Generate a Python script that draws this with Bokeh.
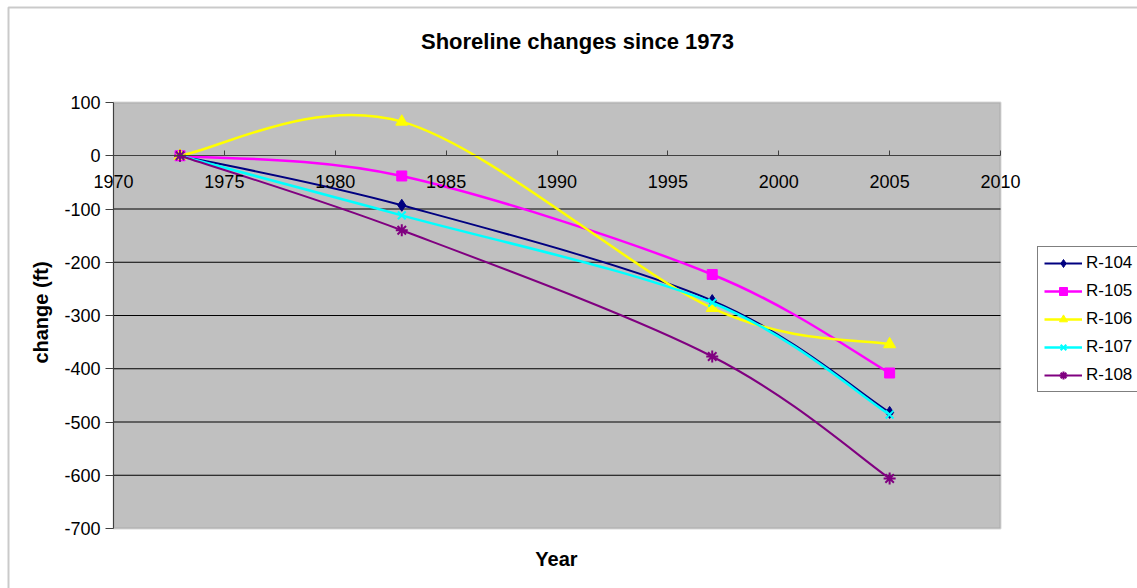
import math
from bokeh.plotting import figure
from bokeh.models import (Range1d, FixedTicker, Legend, LegendItem, Label,
                          BoxAnnotation, ColumnDataSource, LinearAxis,
                          CustomJSTickFormatter)
from bokeh.embed import file_html
from bokeh.resources import INLINE

# Survey years and shoreline change (ft) at each transect
years = [1973, 1983, 1997, 2005]
r104 = [0, -93, -272, -482]
r105 = [0, -38, -223, -408]
r106 = [0, 64, -286, -354]
r107 = [0, -112, -276, -486]
r108 = [0, -140, -377, -606]

series_names = ["R-104", "R-105", "R-106", "R-107", "R-108"]
series_values = [r104, r105, r106, r107, r108]
colors = ["#000080", "#FF00FF", "#FFFF00", "#00FFFF", "#800080"]
markers = ["diamond", "square", "triangle", "x", "asterisk"]
marker_sizes = [12, 10, 12, 11, 12]
line_widths = [2, 2.5, 2.5, 2.5, 2]

x_ticks = [1970, 1975, 1980, 1985, 1990, 1995, 2000, 2005, 2010]
y_ticks = [100, 0, -100, -200, -300, -400, -500, -600, -700]
grid_ticks = [-100, -200, -300, -400, -500, -600]

X_MIN, X_MAX = 1970, 2010
Y_MIN, Y_MAX = -700, 100

W, H = 1137, 588
# plot area inside the canvas (pixels)
PA_LEFT, PA_RIGHT, PA_TOP, PA_BOTTOM = 113, 1000, 102, 528

FONT = "Liberation Sans"


def smooth_segments(xs, ys):
    """Cubic Bezier pieces through the points (cardinal spline, 1/6 tangents)."""
    n = len(xs)
    out = dict(x0=[], y0=[], x1=[], y1=[], cx0=[], cy0=[], cx1=[], cy1=[])
    for i in range(n - 1):
        a = i - 1 if i > 0 else i
        d = i + 2 if i + 2 < n else i + 1
        out["x0"].append(xs[i]); out["y0"].append(ys[i])
        out["x1"].append(xs[i + 1]); out["y1"].append(ys[i + 1])
        out["cx0"].append(xs[i] + (xs[i + 1] - xs[a]) / 6)
        out["cy0"].append(ys[i] + (ys[i + 1] - ys[a]) / 6)
        out["cx1"].append(xs[i + 1] - (xs[d] - xs[i]) / 6)
        out["cy1"].append(ys[i + 1] - (ys[d] - ys[i]) / 6)
    return out


# Extend the ranges so the data area sits at the plot-area pixels
sx = (PA_RIGHT - PA_LEFT) / (X_MAX - X_MIN)
sy = (PA_BOTTOM - PA_TOP) / (Y_MAX - Y_MIN)
x_range = Range1d(X_MIN - PA_LEFT / sx, X_MAX + (W - PA_RIGHT) / sx)
y_range = Range1d(Y_MIN - (H - PA_BOTTOM) / sy, Y_MAX + PA_TOP / sy)

p = figure(
    width=W, height=H, min_border=0,
    x_range=x_range, y_range=y_range,
    x_axis_location=None, y_axis_location=None,
    output_backend="svg", toolbar_location=None,
    background_fill_color="white", border_fill_color="white",
    outline_line_color=None,
)
p.grid.visible = False

# Grey plot area
p.add_layout(BoxAnnotation(left=X_MIN, right=X_MAX, bottom=Y_MIN, top=Y_MAX,
                           fill_color="#C0C0C0", fill_alpha=1,
                           line_color="#808080", line_width=2,
                           level="underlay"))

# Horizontal gridlines
p.segment(x0=[X_MIN] * len(grid_ticks), x1=[X_MAX] * len(grid_ticks),
          y0=grid_ticks, y1=grid_ticks, line_color="#000000", line_width=1)

fmt = CustomJSTickFormatter(code="return tick.toFixed(0)")

# x axis along the zero line
xa = LinearAxis(fixed_location=0, bounds=(X_MIN, X_MAX),
                ticker=FixedTicker(ticks=x_ticks), formatter=fmt,
                major_tick_in=5, major_tick_out=0,
                minor_tick_line_color=None,
                axis_line_color="#404040", major_tick_line_color="#404040",
                major_label_text_font=FONT, major_label_text_font_size="18px",
                major_label_text_color="black", major_label_standoff=19)
p.add_layout(xa, "below")

# y axis at the left edge of the plot area
ya = LinearAxis(fixed_location=X_MIN, bounds=(Y_MIN, Y_MAX),
                ticker=FixedTicker(ticks=y_ticks), formatter=fmt,
                major_tick_in=0, major_tick_out=8,
                minor_tick_line_color=None,
                axis_line_color="#404040", major_tick_line_color="#404040",
                major_label_text_font=FONT, major_label_text_font_size="18px",
                major_label_text_color="black", major_label_standoff=5)
p.add_layout(ya, "left")

# Titles (screen units measured from the bottom-left corner)
p.add_layout(Label(x=577, y=H - 41, x_units="screen", y_units="screen",
                   text="Shoreline changes since 1973", text_font=FONT,
                   text_font_size="22px", text_font_style="bold",
                   text_color="black", text_align="center",
                   text_baseline="middle"))
p.add_layout(Label(x=556, y=H - 558, x_units="screen", y_units="screen",
                   text="Year", text_font=FONT, text_font_size="20px",
                   text_font_style="bold", text_color="black",
                   text_align="center", text_baseline="middle"))
p.add_layout(Label(x=40, y=H - 312, x_units="screen", y_units="screen",
                   text="change (ft)", text_font=FONT, text_font_size="20px",
                   text_font_style="bold", text_color="black",
                   text_align="center", text_baseline="middle",
                   angle=math.pi / 2))

# Outer chart border
p.add_layout(BoxAnnotation(left=8, right=W + 50, top=H - 7, bottom=-50,
                           left_units="screen", right_units="screen",
                           top_units="screen", bottom_units="screen",
                           fill_alpha=0, line_color="#505050", line_width=2))

items = []
for name, vals, c, m, ms, lw in zip(series_names, series_values, colors,
                                    markers, marker_sizes, line_widths):
    seg = ColumnDataSource(smooth_segments(years, vals))
    curve = p.bezier(x0="x0", y0="y0", x1="x1", y1="y1", cx0="cx0", cy0="cy0",
                     cx1="cx1", cy1="cy1", source=seg, line_color=c, line_width=lw)
    pts = p.scatter(years, vals, marker=m, size=ms, fill_color=c, line_color=c,
                    line_width=2 if m in ("x", "asterisk") else 1)
    items.append(LegendItem(label=name, renderers=[curve, pts]))

legend = Legend(items=items, location=(1037, H - 392),
                label_text_font=FONT, label_text_font_size="17px",
                label_text_color="black",
                glyph_width=38, glyph_height=20, label_height=20,
                spacing=8, padding=6, margin=0, label_standoff=4,
                border_line_color="black", border_line_width=1,
                background_fill_color="white", background_fill_alpha=1)
p.add_layout(legend, "center")

open("out.html", "w").write(file_html(p, INLINE))
